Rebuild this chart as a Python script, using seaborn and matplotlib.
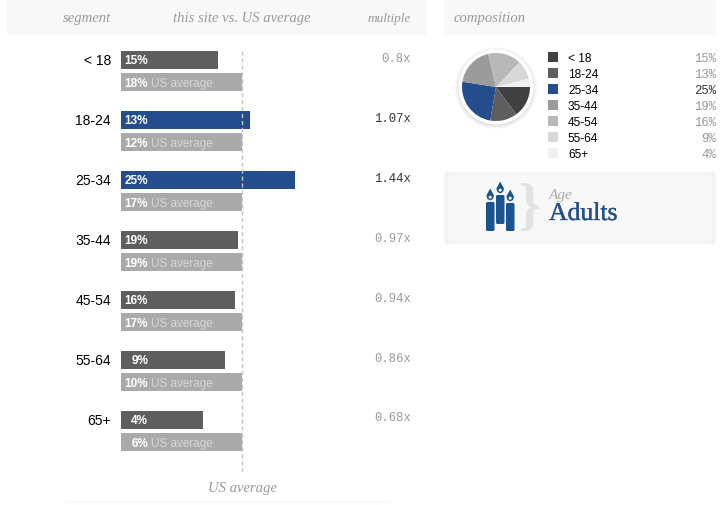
import seaborn as sns
import pandas as pd
import matplotlib.pyplot as plt
import matplotlib.patheffects as pe
from matplotlib.patches import Rectangle, Circle, FancyBboxPatch, Polygon

segments = ["< 18", "18-24", "25-34", "35-44", "45-54", "55-64", "65+"]
multiples = [0.8, 1.07, 1.44, 0.97, 0.94, 0.86, 0.68]
us_baseline = [1, 1, 1, 1, 1, 1, 1]
site_pct = [15, 13, 25, 19, 16, 9, 4]
us_pct = [18, 12, 17, 19, 17, 10, 6]
multiple_labels = ["0.8x", "1.07x", "1.44x", "0.97x", "0.94x", "0.86x", "0.68x"]
pie_colors = ["#404040", "#5e5e5e", "#234d8c", "#9b9b9b", "#b8b8b8", "#d8d8d8", "#f0f0f0"]

BLUE = "#234d8c"
W, H = 727, 506

sns.set_theme(style="white")
plt.rcParams['font.family'] = ['Liberation Sans', 'DejaVu Sans']

df = pd.DataFrame({
    "segment": segments * 2,
    "value": multiples + us_baseline,
    "series": ["site"] * 7 + ["us"] * 7,
})

fig = plt.figure(figsize=(W / 100, H / 100), dpi=100, facecolor="white")

# pixel canvas behind everything for panels and loose text
bg = fig.add_axes([0, 0, 1, 1], zorder=0)
bg.set_xlim(0, W)
bg.set_ylim(H, 0)
bg.axis("off")

bg.add_patch(Rectangle((7, 1), 419, 35, fc="#f8f8f8", ec="none"))
bg.add_patch(Rectangle((444, 1), 272, 35, fc="#f8f8f8", ec="none"))

serif = dict(family="Liberation Serif", style="italic", color="#999999", va="center")
bg.text(111, 18.5, "segment", ha="right", fontsize=10.5, **serif)
bg.text(242, 18.5, "this site vs. US average", ha="center", fontsize=10.5, **serif)
bg.text(411, 18.5, "multiple", ha="right", fontsize=9.5, **serif)
bg.text(454, 18.5, "composition", ha="left", fontsize=10.5, **serif)
bg.text(242, 488.5, "US average", ha="center", fontsize=10.5, **serif)

# faint shadow under the table
for i, a in enumerate([0.05, 0.035, 0.02, 0.01]):
    bg.add_patch(Rectangle((65 + i * 3, 502 + i), 325 - i * 6, 1, fc="#777777", alpha=a, ec="none"))

# bars
ax = fig.add_axes([121 / W, 1 - 461.8 / H, 305 / W, 420 / H], zorder=1)
ax.patch.set_alpha(0)
sns.barplot(data=df, y="segment", x="value", hue="series", order=segments,
            hue_order=["site", "us"], palette=["#5e5e5e", "#aaaaaa"],
            orient="h", width=0.733, gap=0.18, legend=False, saturation=1, linewidth=0, ax=ax)
ax.set_xlim(0, 305 / 121)
ax.set_ylim(6.5, -0.5)
sns.despine(ax=ax, left=True, bottom=True)
ax.set_xticks([])
ax.set_xlabel("")
ax.set_ylabel("")
# labels sit level with the site bar, not the middle of the pair
ax.set_yticks([i - 0.2 for i in range(7)], segments)
ax.tick_params(axis="y", length=0, pad=7.2, labelsize=10, labelcolor="black")

site_bars = ax.patches[:7]
for bar, m in zip(site_bars, multiples):
    if m > 1:
        bar.set_facecolor(BLUE)

ax.plot([1, 1], [0.976, -0.024], transform=ax.get_xaxis_transform(), clip_on=False,
        color="#c4c4c4", lw=1, dashes=(3, 2), zorder=5)

for i in range(7):
    ax.annotate(f"{site_pct[i]}%", xy=(0, i - 0.2), xytext=(27, 0), textcoords="offset pixels",
                ha="right", va="center_baseline", color="white", fontweight="bold", fontsize=8.5, zorder=6)
    ax.annotate(f"{us_pct[i]}%", xy=(0, i + 0.175), xytext=(27, 0), textcoords="offset pixels",
                ha="right", va="center_baseline", color="white", fontweight="bold", fontsize=8.5, zorder=6)
    ax.annotate("US average", xy=(0, i + 0.175), xytext=(30, 0), textcoords="offset pixels",
                ha="left", va="center_baseline", color="#d6d6d6", fontsize=8.5, zorder=6)
    bg.text(411, 58.5 + 60 * i, multiple_labels[i], ha="right", va="center", family="Liberation Mono",
            fontsize=8.8, color="#333333" if multiples[i] > 1 else "#999999")

# pie with its white ring and soft shadow
for r, a in [(41, 0.03), (40, 0.04), (39, 0.05), (38, 0.07)]:
    bg.add_patch(Circle((496, 89), r, fc="#666666", ec="none", alpha=a))
bg.add_patch(Circle((496, 88), 37.5, fc="white", ec="none"))

pie_ax = fig.add_axes([(496 - 34) / W, 1 - (88 + 34) / H, 68 / W, 68 / H], zorder=2)
pie_ax.pie(site_pct, colors=pie_colors, startangle=0, counterclock=False, radius=1,
           wedgeprops=dict(linewidth=0))
pie_ax.set_xlim(-1, 1)
pie_ax.set_ylim(-1, 1)

# legend table
for i in range(7):
    y = 58 + 16 * i
    bg.add_patch(Rectangle((548, y - 5), 10, 10, fc=pie_colors[i], ec="none"))
    bg.text(568, y + 0.8, segments[i], ha="left", va="center", fontsize=8.6, color="black")
    bg.text(716, y + 0.8, f"{site_pct[i]}%", ha="right", va="center", family="Liberation Mono", fontsize=8.8,
            color="#333333" if multiples[i] > 1.2 else "#999999")

# age badge
for inset, c in [(0, "#f5f5f5"), (1, "#f1f1f1"), (2, "#f3f3f3"), (3, "#f6f6f6"), (4, "#f8f8f8")]:
    bg.add_patch(FancyBboxPatch((444 + inset, 173 + inset), 272 - 2 * inset, 72 - 2 * inset,
                                boxstyle="round,pad=0,rounding_size=4", fc=c, ec="none"))

icon = "#1a5490"
for x0, top, bottom in [(486, 203, 232), (496, 196, 225), (506, 204, 232)]:
    bg.add_patch(FancyBboxPatch((x0, top), 8.5, bottom - top, boxstyle="round,pad=0,rounding_size=1.5",
                                fc=icon, ec="none"))
    cx = x0 + 4.2
    bg.add_patch(Polygon([(cx, top - 13.5), (cx + 3.8, top - 6.5), (cx + 2.8, top - 3), (cx, top - 1.5),
                          (cx - 2.8, top - 3), (cx - 3.8, top - 6.5)], fc=icon, ec="none"))
    bg.add_patch(Circle((cx, top - 4.8), 1.5, fc="white", ec="none"))

bg.text(530, 209, "}", ha="center", va="center", family="Liberation Serif", fontweight="bold",
        fontsize=40, color="#e2e2e2")
bg.text(549, 196, "Age", ha="left", va="center", family="Liberation Serif", style="italic",
        fontsize=11, color="#aaaaaa")
adults = bg.text(549, 215, "Adults", ha="left", va="center", family="Liberation Serif", fontsize=18.5, color=BLUE)
adults.set_path_effects([pe.withStroke(linewidth=0.25, foreground=BLUE)])

plt.savefig("out.png", dpi=100)
